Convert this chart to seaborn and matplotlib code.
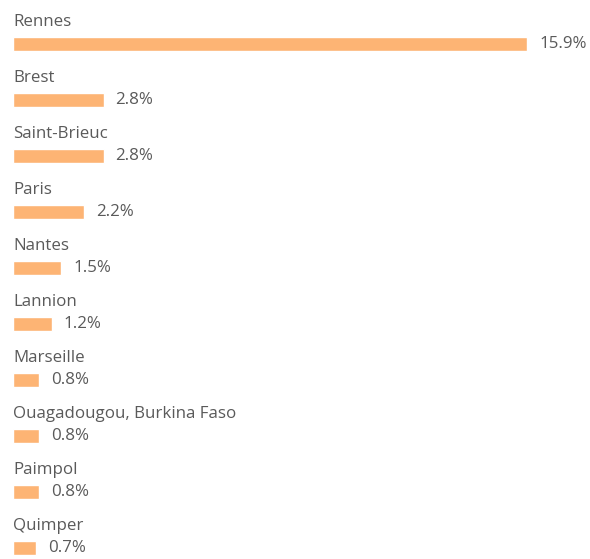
import numpy as np
import pandas as pd
import matplotlib.pyplot as plt
import seaborn as sns

cities = ['Rennes', 'Brest', 'Saint-Brieuc', 'Paris', 'Nantes', 'Lannion',
          'Marseille', 'Ouagadougou, Burkina Faso', 'Paimpol', 'Quimper']
shares = [15.9, 2.8, 2.8, 2.2, 1.5, 1.2, 0.8, 0.8, 0.8, 0.7]

df = pd.DataFrame({'city': cities, 'share': shares})

sns.set_style('white')
plt.rcParams['font.family'] = ['Open Sans', 'DejaVu Sans']

fig = plt.figure(figsize=(5.9, 5.59), dpi=100)
ax = fig.add_axes([13/590, 0, 514/590, 1])
sns.barplot(data=df, x='share', y='city', orient='h', color='#FDB474',
            width=0.25, saturation=1, ax=ax)

ax.set_xlim(0, 15.9)
ax.set_ylim(9.196, -0.786)
ax.axis('off')

px = 15.9 / 514
for i, (c, v) in enumerate(zip(cities, shares)):
    ax.text(0, i - 0.39, c, fontsize=12.2, color='#5a5a5a', va='center', ha='left')
    ax.text(v + 12 * px, i, f'{v}%', fontsize=12.2, color='#5a5a5a', va='center',
            ha='left', clip_on=False)

fig.savefig('out.png', dpi=100)
